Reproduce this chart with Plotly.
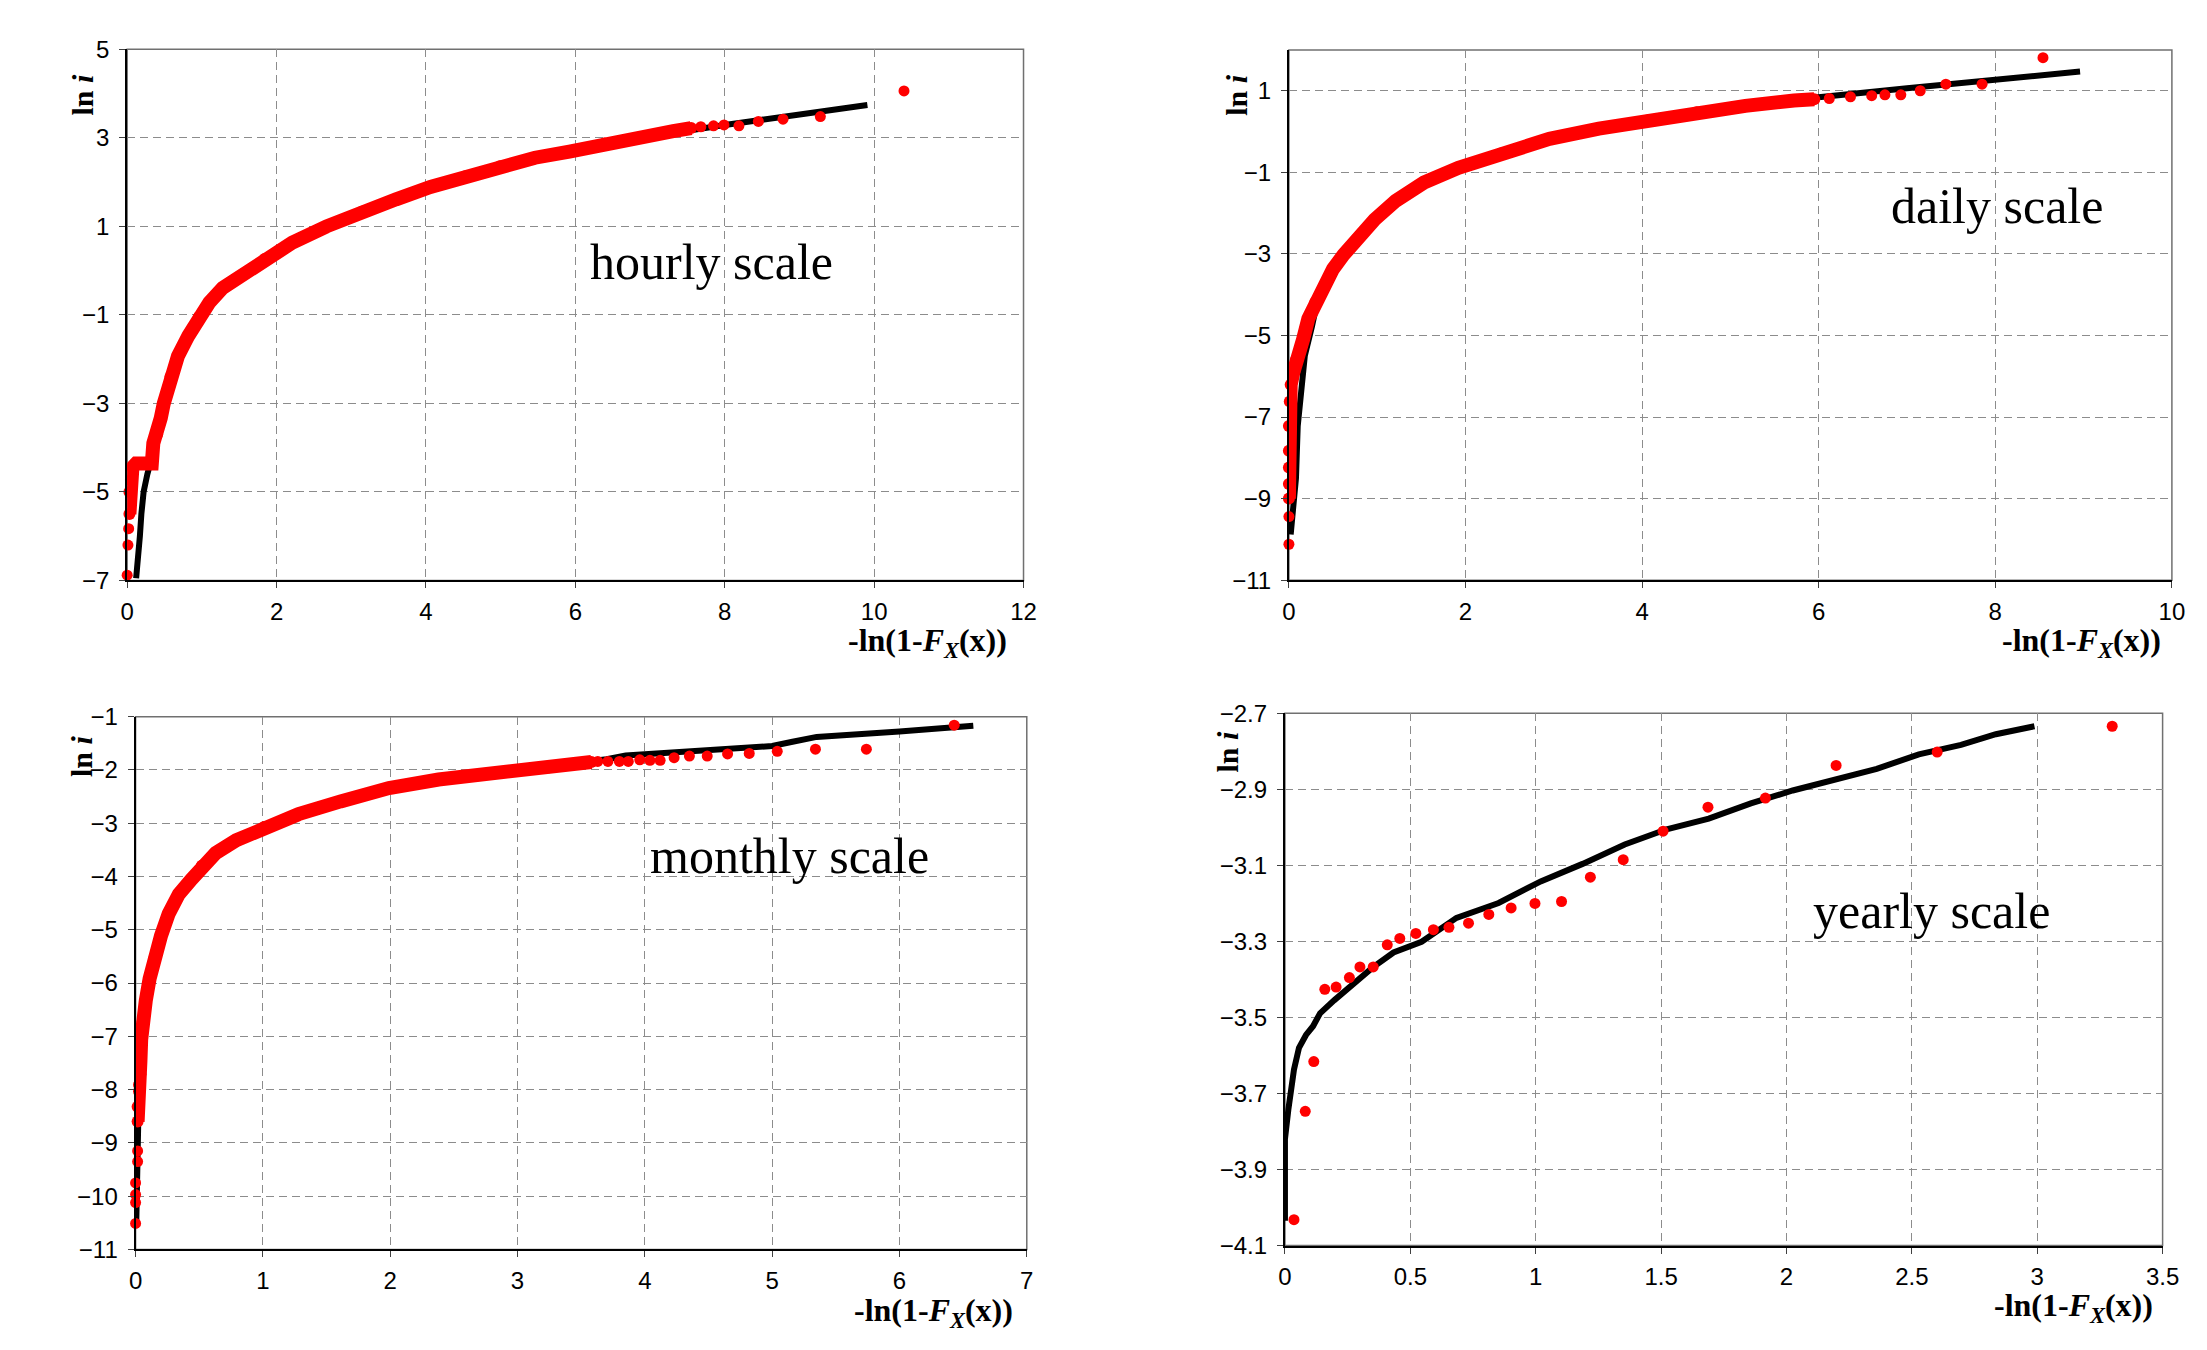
import plotly.graph_objects as go

W, H = 2207, 1350

# ---------------- hourly scale ----------------
hourly_fit_x = [0.12, 0.15, 0.17, 0.19, 0.22, 0.27, 0.30, 0.35, 0.40, 0.45, 0.49, 0.58, 0.68, 0.82, 0.96,
                1.10, 1.28, 1.56, 1.84, 2.21, 2.67, 3.14, 3.60, 4.06, 4.53, 4.99, 5.46, 5.92, 6.39, 6.76,
                7.03, 7.50, 8.00, 8.50, 9.00, 9.50, 9.91]
hourly_fit_y = [-6.95, -6.50, -6.00, -5.50, -5.00, -4.60, -4.36, -4.10, -3.75, -3.33, -3.00, -2.40, -1.93,
                -1.47, -1.05, -0.72, -0.39, -0.07, 0.26, 0.63, 1.00, 1.33, 1.61, 1.89, 2.13, 2.36, 2.55,
                2.69, 2.87, 2.97, 3.06, 3.17, 3.29, 3.41, 3.52, 3.63, 3.74]
hourly_band_x = [0.03, 0.03, 0.05, 0.07, 0.12, 0.33, 0.35, 0.40, 0.45, 0.49, 0.58, 0.68, 0.82, 0.96, 1.10,
                 1.28, 1.56, 1.84, 2.21, 2.67, 3.14, 3.60, 4.06, 4.53, 4.99, 5.46, 5.92, 6.39, 6.76, 7.03,
                 7.31, 7.55]
hourly_band_y = [-5.50, -5.00, -4.73, -4.45, -4.36, -4.36, -3.90, -3.70, -3.33, -3.00, -2.40, -1.93, -1.47,
                 -1.05, -0.72, -0.39, -0.07, 0.26, 0.63, 1.00, 1.33, 1.61, 1.89, 2.13, 2.36, 2.55, 2.69,
                 2.87, 2.97, 3.06, 3.15, 3.22]
hourly_pts_x = [0.00, 0.01, 0.02, 7.68, 7.85, 7.99, 8.19, 8.45, 8.78, 9.28, 10.40]
hourly_pts_y = [-6.88, -6.20, -5.83, 3.25, 3.27, 3.29, 3.27, 3.37, 3.42, 3.48, 4.06]

# ---------------- daily scale ----------------
daily_fit_x = [0.02, 0.05, 0.08, 0.10, 0.14, 0.18, 0.26, 0.32, 0.40, 0.50, 0.62, 0.78, 0.97, 1.21, 1.53,
               1.92, 2.40, 2.95, 3.51, 4.06, 4.62, 5.17, 5.72, 6.00, 6.50, 7.00, 7.50, 7.89, 8.49, 8.86, 8.96]
daily_fit_y = [-9.88, -9.20, -8.50, -7.22, -6.21, -5.50, -4.79, -4.18, -3.88, -3.42, -3.05, -2.64, -2.18,
               -1.72, -1.27, -0.90, -0.55, -0.19, 0.07, 0.28, 0.48, 0.64, 0.78, 0.85, 0.95, 1.06, 1.16,
               1.24, 1.36, 1.44, 1.47]
daily_band_x = [0.00, 0.00, 0.00, 0.00, 0.00, 0.01, 0.02, 0.05, 0.08, 0.12, 0.16, 0.22, 0.30, 0.38, 0.50,
                0.62, 0.78, 0.97, 1.21, 1.53, 1.92, 2.40, 2.95, 3.51, 4.06, 4.62, 5.17, 5.72, 5.95]
daily_band_y = [-9.00, -8.64, -8.24, -7.83, -7.22, -6.62, -6.21, -5.91, -5.60, -5.40, -5.10, -4.59, -4.18,
                -3.88, -3.37, -3.02, -2.62, -2.16, -1.70, -1.25, -0.89, -0.54, -0.18, 0.07, 0.27, 0.47,
                0.63, 0.76, 0.79]
daily_pts_x = [0.00, 0.00, 6.12, 6.36, 6.60, 6.75, 6.93, 7.15, 7.44, 7.85, 8.54]
daily_pts_y = [-10.12, -9.44, 0.81, 0.85, 0.88, 0.90, 0.90, 1.00, 1.16, 1.16, 1.81]

# ---------------- monthly scale ----------------
monthly_fit_x = [0.005, 0.01, 0.02, 0.03, 0.05, 0.08, 0.11, 0.15, 0.20, 0.26, 0.34, 0.44, 0.52, 0.63, 0.79,
                 1.01, 1.28, 1.61, 1.99, 2.38, 2.81, 3.00, 3.40, 3.70, 3.85, 4.20, 4.60, 5.00, 5.16, 5.35,
                 6.00, 6.58]
monthly_fit_y = [-10.55, -9.50, -8.50, -7.50, -6.80, -6.33, -5.92, -5.51, -5.11, -4.70, -4.33, -4.05, -3.80,
                 -3.56, -3.32, -3.07, -2.83, -2.59, -2.34, -2.18, -2.06, -2.00, -1.90, -1.80, -1.73, -1.67,
                 -1.61, -1.55, -1.47, -1.38, -1.28, -1.17]
monthly_band_x = [0.016, 0.016, 0.027, 0.027, 0.038, 0.038, 0.044, 0.055, 0.08, 0.11, 0.15, 0.20, 0.26, 0.34,
                  0.44, 0.52, 0.63, 0.79, 1.01, 1.28, 1.61, 1.99, 2.38, 2.81, 3.25, 3.58]
monthly_band_y = [-8.60, -8.32, -8.03, -7.91, -7.71, -7.46, -7.06, -6.73, -6.33, -5.92, -5.51, -5.11, -4.70,
                  -4.33, -4.05, -3.80, -3.56, -3.32, -3.07, -2.83, -2.59, -2.34, -2.18, -2.06, -1.95, -1.85]
monthly_pts_x = [0.00, 0.00, 0.00, 0.00, 0.016, 0.016, 3.63, 3.71, 3.80, 3.87, 3.96, 4.04, 4.12, 4.23, 4.35,
                 4.49, 4.65, 4.82, 5.04, 5.34, 5.74, 6.43]
monthly_pts_y = [-10.51, -10.12, -9.97, -9.75, -9.35, -9.15, -1.84, -1.84, -1.84, -1.84, -1.81, -1.82, -1.82,
                 -1.77, -1.74, -1.74, -1.70, -1.69, -1.65, -1.61, -1.61, -1.16]

# ---------------- yearly scale ----------------
yearly_fit_x = [0.0, 0.0, 0.014, 0.022, 0.036, 0.056, 0.084, 0.112, 0.140, 0.196, 0.265, 0.349, 0.433, 0.545,
                0.684, 0.852, 1.020, 1.187, 1.355, 1.522, 1.690, 1.858, 2.025, 2.193, 2.360, 2.528, 2.696,
                2.835, 2.989]
yearly_fit_y = [-4.035, -3.820, -3.740, -3.694, -3.637, -3.580, -3.546, -3.523, -3.489, -3.455, -3.415,
                -3.369, -3.329, -3.301, -3.238, -3.199, -3.142, -3.096, -3.045, -3.005, -2.977, -2.937,
                -2.903, -2.874, -2.846, -2.808, -2.783, -2.755, -2.734]
yearly_pts_x = [0.036, 0.081, 0.115, 0.159, 0.204, 0.257, 0.299, 0.352, 0.408, 0.458, 0.522, 0.592, 0.654,
                0.732, 0.813, 0.902, 0.997, 1.103, 1.218, 1.349, 1.508, 1.687, 1.916, 2.198, 2.601, 3.299]
yearly_pts_y = [-4.032, -3.747, -3.616, -3.426, -3.420, -3.395, -3.367, -3.367, -3.309, -3.292, -3.279,
                -3.269, -3.263, -3.252, -3.229, -3.212, -3.200, -3.195, -3.131, -3.085, -3.010, -2.947,
                -2.923, -2.837, -2.802, -2.734]

scale_labels = ["hourly scale", "daily scale", "monthly scale", "yearly scale"]

RED = "#ff0000"
BLACK = "#000000"

# plot-area pixel boxes (left, top, right, bottom)
boxes = [
    (121.5, 36.0, 1027.7, 578.0),
    (1296.0, 36.7, 2188.7, 577.7),
    (130.0, 717.0, 1031.0, 1260.7),
    (1292.0, 713.6, 2179.3, 1256.7),
]
xranges = [[0, 12], [0, 10], [0, 7], [0, 3.5]]
xdticks = [2, 2, 1, 0.5]
yranges = [[-7, 5], [-11, 2], [-11, -1], [-4.1, -2.7]]
ydticks = [2, 2, 1, 0.2]
label_pos = [(7.82, 0.2), (8.02, -1.82), (5.14, -3.62), (2.58, -3.22)]
xtitle_pos = [(1013.0, 641.0), (2180.0, 641.0), (1019.0, 1325.0), (2172.0, 1320.0)]
ytitle_pos = [(76, 82), (1243, 82), (76, 757), (1234, 753)]

fits = [(hourly_fit_x, hourly_fit_y), (daily_fit_x, daily_fit_y),
        (monthly_fit_x, monthly_fit_y), (yearly_fit_x, yearly_fit_y)]
bands = [(hourly_band_x, hourly_band_y), (daily_band_x, daily_band_y),
         (monthly_band_x, monthly_band_y), None]
pts = [(hourly_pts_x, hourly_pts_y), (daily_pts_x, daily_pts_y),
       (monthly_pts_x, monthly_pts_y), (yearly_pts_x, yearly_pts_y)]

fig = go.Figure()
layout = dict(width=W, height=H, autosize=False, margin=dict(l=0, r=0, t=0, b=0),
              paper_bgcolor="white", plot_bgcolor="white", showlegend=False)
shapes = []
annotations = []

TICKFONT = dict(family="Liberation Sans, Arial, sans-serif", size=24, color="black")
SERIF = "Liberation Serif, Times New Roman, serif"

for i in range(4):
    n = "" if i == 0 else str(i + 1)
    xa, ya = "x" + n, "y" + n
    l, t, r, b = boxes[i]
    xdom = [l / W, r / W]
    ydom = [1 - b / H, 1 - t / H]
    layout["xaxis" + n] = dict(
        domain=xdom, range=xranges[i], dtick=xdticks[i], tick0=0, anchor=ya,
        showgrid=True, gridcolor="#8c8c8c", gridwidth=1, griddash="8px,5px",
        zeroline=False, showline=True, linecolor="black", linewidth=2,
        ticks="outside", ticklen=6, tickwidth=1, tickcolor="#404040",
        tickfont=TICKFONT, ticklabelstandoff=3, fixedrange=True)
    layout["yaxis" + n] = dict(
        domain=ydom, range=yranges[i], dtick=ydticks[i], tick0=yranges[i][0], anchor=xa,
        showgrid=True, gridcolor="#8c8c8c", gridwidth=1, griddash="8px,5px",
        zeroline=False, showline=True, linecolor="black", linewidth=2,
        ticks="outside", ticklen=6, tickwidth=1, tickcolor="#404040",
        tickfont=TICKFONT, ticklabelstandoff=5, fixedrange=True)
    shapes.append(dict(type="rect", xref=xa + " domain", yref=ya + " domain",
                       x0=0, x1=1, y0=0, y1=1, line=dict(color="#707070", width=1.5),
                       layer="below"))

    fx, fy = fits[i]
    fig.add_trace(go.Scatter(x=fx, y=fy, xaxis=xa, yaxis=ya, mode="lines",
                             line=dict(color=BLACK, width=6), cliponaxis=False,
                             hoverinfo="skip"))
    if bands[i] is not None:
        bx, by = bands[i]
        fig.add_trace(go.Scatter(x=bx, y=by, xaxis=xa, yaxis=ya, mode="lines+markers",
                                 line=dict(color=RED, width=14),
                                 marker=dict(color=RED, size=12), cliponaxis=False))
    px, py = pts[i]
    fig.add_trace(go.Scatter(x=px, y=py, xaxis=xa, yaxis=ya, mode="markers",
                             marker=dict(color=RED, size=11), cliponaxis=False))

    lx, ly = label_pos[i]
    annotations.append(dict(x=lx, y=ly, xref=xa, yref=ya, text=scale_labels[i],
                            showarrow=False, xanchor="center", yanchor="middle",
                            font=dict(family=SERIF, size=50, color="black")))
    tx, ty = xtitle_pos[i]
    annotations.append(dict(x=tx / W, y=1 - ty / H, xref="paper", yref="paper",
                            text="<b>-ln(1-<i>F</i><sub><i>X</i></sub>(x))</b>",
                            showarrow=False, xanchor="right", yanchor="middle",
                            font=dict(family=SERIF, size=32, color="black")))
    gx, gy = ytitle_pos[i]
    annotations.append(dict(x=gx / W, y=1 - gy / H, xref="paper", yref="paper",
                            text="<b>ln <i>i</i></b>", textangle=-90,
                            showarrow=False, xanchor="center", yanchor="middle",
                            font=dict(family=SERIF, size=30, color="black")))

layout["shapes"] = shapes
layout["annotations"] = annotations
fig.update_layout(**layout)

no_page_margin = (
    "document.documentElement.style.margin='0';document.documentElement.style.padding='0';"
    "document.body.style.margin='0';document.body.style.padding='0';"
    "document.documentElement.style.overflow='hidden';document.body.style.overflow='hidden';"
)
fig.write_html("out.html", config={"displayModeBar": False}, post_script=no_page_margin)
